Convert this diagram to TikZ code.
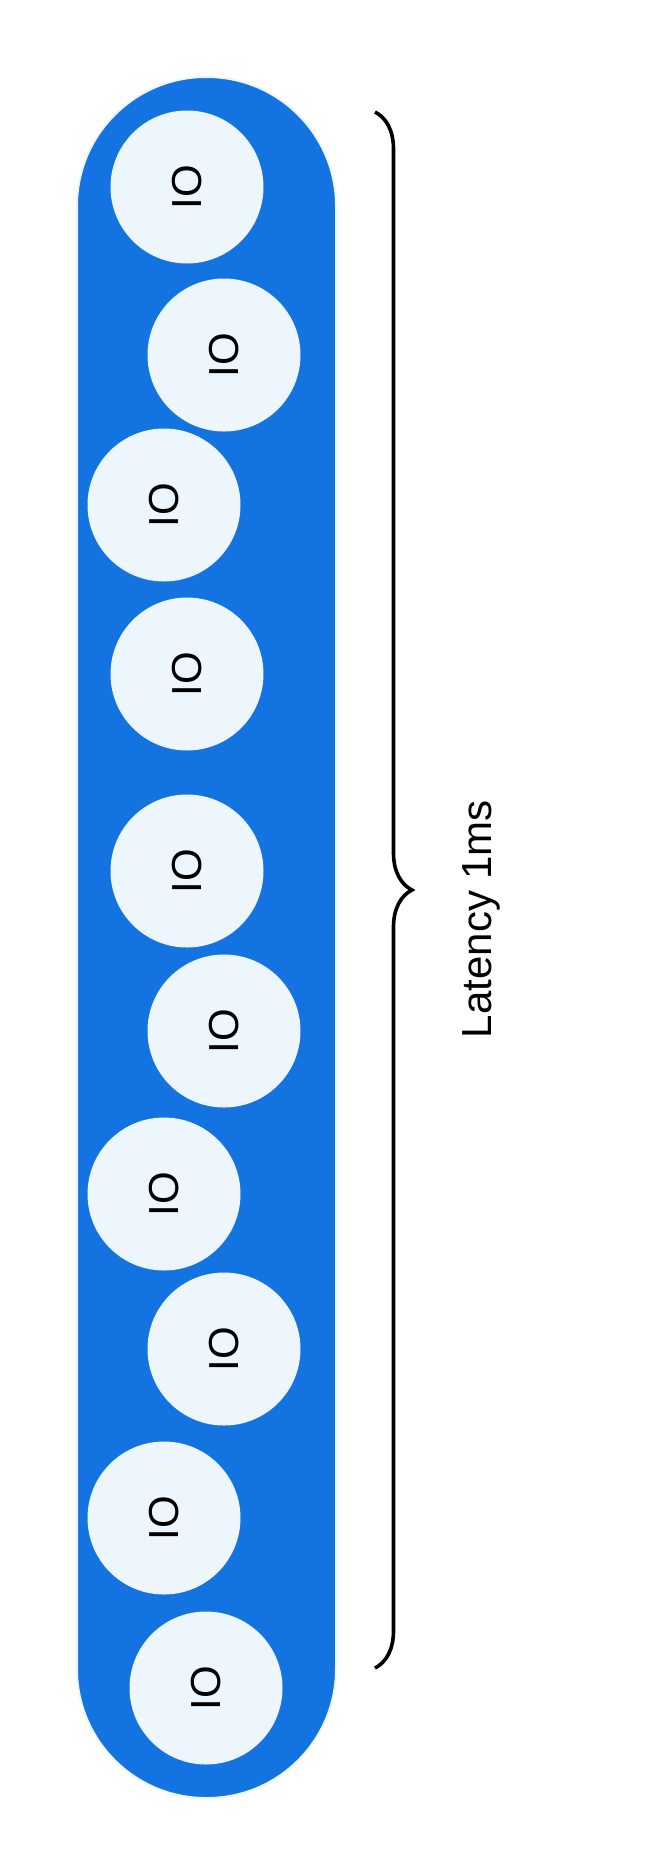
\documentclass[tikz,border=0pt]{standalone}
\usepackage{fontspec}
\setmainfont{Liberation Sans}
\usepackage{xcolor}
\usetikzlibrary{decorations.pathreplacing}
\definecolor{pillblue}{RGB}{19,115,224}
\definecolor{iofill}{RGB}{237,245,253}
\tikzset{
  iocircle/.style={circle, fill=iofill, minimum size=76.5pt, inner sep=0pt,
    font=\fontsize{21}{25}\selectfont},
}

\begin{document}
\begin{tikzpicture}[x=0.5pt, y=-0.5pt]
\useasboundingbox (0,0) rectangle (656,1875);

% Queue
\filldraw[fill=pillblue, draw=iofill, line width=1pt, rounded corners=64.5pt] (77,77) rectangle (336,1798);

% IO requests
\node[iocircle] (io1) at (187,187) {\rotatebox{90}{IO}};
\node[iocircle] (io2) at (224,355) {\rotatebox{90}{IO}};
\node[iocircle] (io3) at (164,505) {\rotatebox{90}{IO}};
\node[iocircle] (io4) at (187,674) {\rotatebox{90}{IO}};
\node[iocircle] (io5) at (187,871) {\rotatebox{90}{IO}};
\node[iocircle] (io6) at (224,1031) {\rotatebox{90}{IO}};
\node[iocircle] (io7) at (164,1194) {\rotatebox{90}{IO}};
\node[iocircle] (io8) at (224,1349) {\rotatebox{90}{IO}};
\node[iocircle] (io9) at (164,1518) {\rotatebox{90}{IO}};
\node[iocircle] (io10) at (206,1688) {\rotatebox{90}{IO}};

% Latency brace
\coordinate (bracetop) at (375,112);
\coordinate (bracebot) at (375,1668);
\draw[line width=1.8pt, decorate, decoration={brace, amplitude=18.5pt}] (bracetop) -- (bracebot);
\node[rotate=90, font=\fontsize{21}{25}\selectfont] (latency) at (481,919) {Latency 1ms};
\end{tikzpicture}
\end{document}
